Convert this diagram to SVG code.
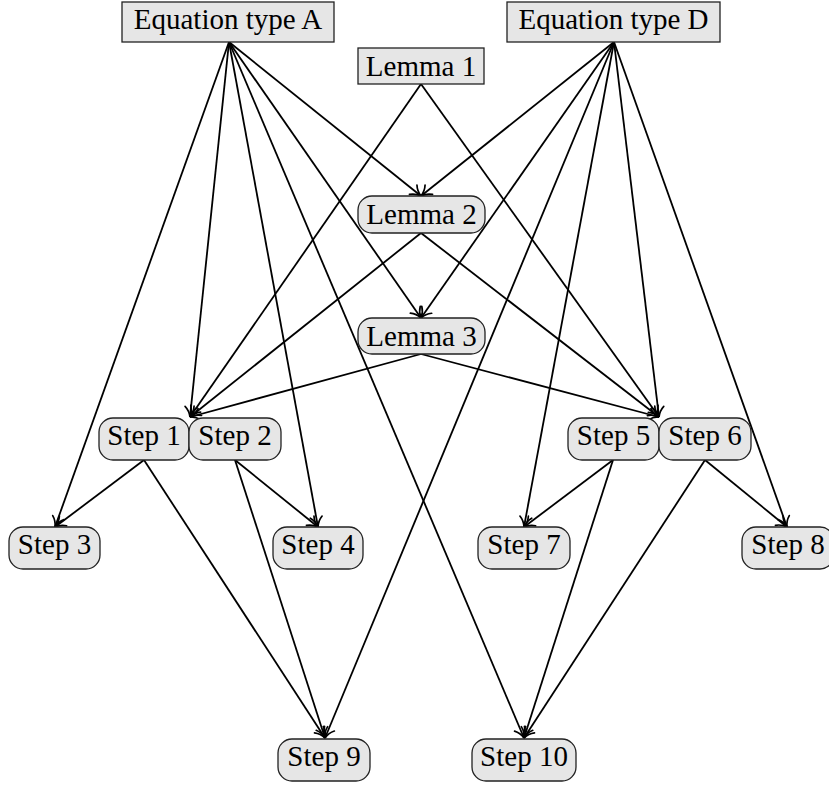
<svg xmlns="http://www.w3.org/2000/svg" width="829" height="787" viewBox="0 0 829 787">
<style>
.box{fill:#e6e6e6;stroke:#222;stroke-width:1.3}
.t{font-family:"Liberation Serif","Times New Roman",serif;font-size:29px;fill:#000;text-anchor:middle}
.e{stroke:#000;stroke-width:1.8;fill:none;marker-end:url(#ar)}
</style>
<defs>
<marker id="ar" markerUnits="userSpaceOnUse" markerWidth="14" markerHeight="14" viewBox="-11 -7 12 14" refX="0" refY="0" orient="auto" overflow="visible">
<path d="M-10,-6 C-7,-2.5 -3,-0.7 0,0 C-3,0.7 -7,2.5 -10,6" fill="none" stroke="#000" stroke-width="1.7" stroke-linecap="round"/>
</marker>
</defs>
<rect width="829" height="787" fill="#fff"/>
<g id="connectors">
<line class="e" x1="229" y1="42" x2="55" y2="527"/>
<line class="e" x1="229" y1="42" x2="190" y2="417"/>
<line class="e" x1="229" y1="42" x2="318" y2="527"/>
<line class="e" x1="229" y1="42" x2="421" y2="196"/>
<line class="e" x1="229" y1="42" x2="421" y2="318"/>
<line class="e" x1="229" y1="42" x2="524" y2="738"/>
<line class="e" x1="614" y1="42" x2="787" y2="527"/>
<line class="e" x1="614" y1="42" x2="659" y2="417"/>
<line class="e" x1="614" y1="42" x2="524" y2="527"/>
<line class="e" x1="614" y1="42" x2="421" y2="196"/>
<line class="e" x1="614" y1="42" x2="421" y2="318"/>
<line class="e" x1="614" y1="42" x2="325" y2="738"/>
<line class="e" x1="421" y1="84" x2="190" y2="417"/>
<line class="e" x1="421" y1="84" x2="659" y2="417"/>
<line class="e" x1="421" y1="233" x2="190" y2="417"/>
<line class="e" x1="421" y1="233" x2="659" y2="417"/>
<line class="e" x1="421" y1="354" x2="190" y2="417"/>
<line class="e" x1="421" y1="354" x2="659" y2="417"/>
<line class="e" x1="144" y1="460" x2="55" y2="527"/>
<line class="e" x1="144" y1="460" x2="325" y2="738"/>
<line class="e" x1="235" y1="460" x2="318" y2="527"/>
<line class="e" x1="235" y1="460" x2="325" y2="738"/>
<line class="e" x1="613" y1="460" x2="524" y2="527"/>
<line class="e" x1="613" y1="460" x2="524" y2="738"/>
<line class="e" x1="705" y1="460" x2="787" y2="527"/>
<line class="e" x1="705" y1="460" x2="524" y2="738"/>
</g>
<g id="eqA"><rect class="box" x="122" y="2" width="212" height="40"/><text class="t" x="228" y="29">Equation type A</text></g>
<g id="eqD"><rect class="box" x="507" y="2" width="213" height="40"/><text class="t" x="613.5" y="29">Equation type D</text></g>
<g id="lemma1"><rect class="box" x="358" y="48" width="126" height="36"/><text class="t" x="421" y="76">Lemma 1</text></g>
<g id="lemma2"><rect class="box" x="358" y="196" width="127" height="37" rx="14"/><text class="t" x="421.5" y="224">Lemma 2</text></g>
<g id="lemma3"><rect class="box" x="358" y="318" width="127" height="36" rx="14"/><text class="t" x="421.5" y="346">Lemma 3</text></g>
<g id="step1"><rect class="box" x="99" y="418" width="90" height="42" rx="14"/><text class="t" x="144" y="445">Step 1</text></g>
<g id="step2"><rect class="box" x="189" y="418" width="92" height="42" rx="14"/><text class="t" x="235" y="445">Step 2</text></g>
<g id="step5"><rect class="box" x="568" y="418" width="91" height="42" rx="14"/><text class="t" x="613.5" y="445">Step 5</text></g>
<g id="step6"><rect class="box" x="659" y="418" width="92" height="42" rx="14"/><text class="t" x="705" y="445">Step 6</text></g>
<g id="step3"><rect class="box" x="9" y="527" width="91" height="42" rx="14"/><text class="t" x="54.5" y="554">Step 3</text></g>
<g id="step4"><rect class="box" x="273" y="527" width="90" height="42" rx="14"/><text class="t" x="318" y="554">Step 4</text></g>
<g id="step7"><rect class="box" x="478" y="527" width="92" height="42" rx="14"/><text class="t" x="524" y="554">Step 7</text></g>
<g id="step8"><rect class="box" x="742" y="527" width="92" height="42" rx="14"/><text class="t" x="788" y="554">Step 8</text></g>
<g id="step9"><rect class="box" x="278" y="739" width="92" height="42" rx="14"/><text class="t" x="324" y="766">Step 9</text></g>
<g id="step10"><rect class="box" x="472" y="739" width="104" height="42" rx="14"/><text class="t" x="524" y="766">Step 10</text></g>
</svg>
